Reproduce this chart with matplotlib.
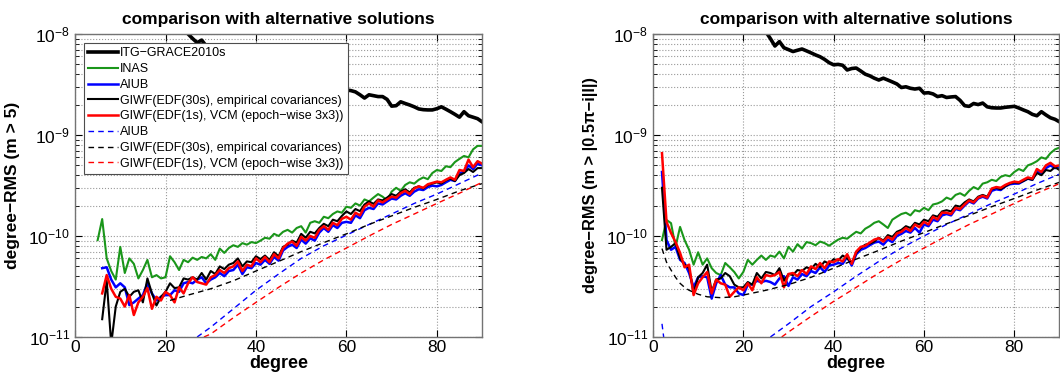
import numpy as np
import matplotlib
matplotlib.use("Agg")
import matplotlib.pyplot as plt
from matplotlib.ticker import FixedLocator, NullFormatter

plt.rcParams['font.family'] = ['Liberation Sans', 'DejaVu Sans']
plt.rcParams['mathtext.fontset'] = 'custom'
plt.rcParams['mathtext.rm'] = 'Liberation Sans'
plt.rcParams['mathtext.it'] = 'Liberation Sans:italic'

# ---------------------------------------------------
# data (values in units of 1e-11)
# ---------------------------------------------------

# ITG-GRACE2010s
itg_deg_left = list(range(25, 91))
itg_left = [1000, 900, 820, 870, 760, 700, 670, 690, 710, 680, 650, 620, 595, 560, 520,
            495, 500, 490, 440, 455, 460, 430, 400, 385, 365, 350, 365, 350, 335, 320,
            295, 300, 290, 285, 290, 279, 275, 267, 250, 232, 250, 245, 240, 240, 225,
            193, 195, 213, 205, 198, 190, 181, 178, 177, 177, 182, 190, 180, 170, 160,
            150, 170, 155, 150, 145, 135]

itg_deg_right = list(range(25, 91))
itg_right = [1050, 900, 760, 840, 730, 700, 670, 690, 710, 680, 650, 620, 595, 560, 520,
             495, 500, 490, 440, 455, 460, 430, 400, 385, 365, 350, 365, 350, 335, 320,
             295, 300, 290, 285, 290, 260, 262, 255, 240, 245, 235, 238, 240, 220, 195,
             192, 205, 200, 207, 190, 186, 185, 185, 188, 190, 192, 185, 177, 170, 160,
             155, 170, 158, 148, 143, 135]

# left panel (m > 5)
inas_deg_left = list(range(5, 91))
inas_left = [9.1, 14.7, 6.0, 4.5, 3.7, 7.8, 4.3, 6.0, 5.3, 3.8, 4.6, 5.8, 3.9, 4.1, 3.8,
             3.9, 6.3, 5.5, 4.6, 5.8, 5.5, 6.1, 5.8, 6.2, 6.0, 6.6, 5.8, 7.5, 6.8, 7.6,
             8.1, 7.8, 8.5, 8.2, 8.7, 8.5, 9.0, 9.6, 9.4, 10.5, 10.0, 11.0, 11.5, 10.8, 12.0,
             12.5, 10.8, 13.5, 14.0, 13.5, 15.5, 15.0, 16.5, 17.5, 17.0, 19.5, 19.0, 21.0, 20.0, 23.0,
             22.0, 24.0, 26.0, 24.5, 22.5, 27.5, 30.0, 28.0, 32.0, 34.0, 33.0, 36.0, 38.0, 36.5, 42.0,
             45.0, 44.0, 49.0, 48.0, 54.0, 58.0, 62.0, 60.0, 72.0, 78.0, 78.0]

sol_deg_left = list(range(6, 91))
aiub_left = [4.8, 4.9, 3.7, 3.1, 3.4, 3.1, 2.07, 2.2, 2.4, 2.6, 3.4, 2.7, 2.3, 2.5, 2.6,
             2.6, 2.9, 2.8, 3.4, 3.5, 3.4, 3.7, 3.9, 3.4, 3.7, 3.9, 4.3, 4.0, 4.5, 4.6,
             5.2, 4.2, 4.9, 4.8, 5.4, 5.2, 5.8, 5.3, 6.2, 5.7, 7.2, 7.8, 8.2, 7.6, 9.2,
             8.4, 9.5, 9.0, 10.8, 12.0, 11.0, 12.8, 12.0, 13.5, 13.8, 13.5, 16.0, 15.0, 18.0, 19.0,
             18.5, 21.0, 20.5, 22.0, 23.5, 23.0, 25.0, 26.5, 25.0, 27.5, 29.0, 28.5, 30.5, 31.5, 31.0,
             32.0, 34.0, 36.0, 35.0, 42.0, 43.0, 50.0, 46.0, 52.0, 50.0]
giwf30_left = [1.5, 3.6, 0.85, 2.0, 2.8, 3.0, 2.5, 2.8, 2.9, 2.2, 3.8, 2.7, 2.05, 2.5, 2.8,
               3.4, 3.05, 3.1, 3.8, 3.7, 3.9, 3.7, 4.3, 3.7, 4.5, 4.2, 5.0, 4.7, 5.2, 5.4,
               6.0, 5.0, 5.6, 5.5, 6.3, 5.9, 6.4, 5.8, 6.9, 6.3, 7.8, 8.2, 9.0, 8.6, 10.5,
               9.6, 11.0, 10.6, 12.0, 13.2, 12.5, 14.5, 14.0, 15.8, 17.5, 16.5, 18.5, 17.6, 20.5, 22.0,
               20.8, 23.0, 22.5, 24.0, 26.0, 25.0, 27.5, 29.0, 27.0, 30.0, 31.0, 29.5, 32.0, 33.0, 34.0,
               33.0, 35.5, 37.0, 35.0, 40.0, 42.0, 46.0, 43.0, 47.0, 47.0]
giwf1_left = [2.7, 4.1, 3.0, 2.5, 2.4, 2.0, 2.6, 1.65, 2.2, 2.5, 3.05, 1.9, 2.5, 2.3, 2.8,
              2.6, 2.2, 3.1, 2.7, 3.4, 3.9, 3.5, 3.4, 3.3, 3.9, 4.1, 4.6, 4.3, 4.8, 5.0,
              5.6, 4.5, 5.2, 5.0, 6.0, 5.5, 6.2, 5.5, 6.6, 6.0, 7.6, 8.4, 8.8, 8.0, 9.8,
              9.0, 10.0, 9.6, 11.5, 12.5, 11.5, 13.5, 12.8, 14.8, 15.5, 14.5, 17.0, 16.0, 19.5, 21.0,
              19.5, 22.5, 21.5, 23.0, 24.5, 24.0, 26.5, 28.0, 26.0, 29.5, 31.0, 30.0, 32.5, 33.5, 34.5,
              34.0, 36.0, 38.0, 36.0, 45.0, 44.0, 57.0, 48.0, 55.0, 52.0]

# formal errors (left)
aiub_f_deg_left = [27, 30, 35, 40, 45, 50, 55, 60, 65, 70, 75, 80, 85, 90]
aiub_f_left = [1.0, 1.25, 1.9, 2.9, 4.2, 6.0, 8.0, 10.2, 13.0, 16.5, 21.0, 26.0, 33.0, 42.0]
giwf30_f_deg_left = [21, 25, 30, 35, 40, 45, 50, 55, 60, 65, 70, 75, 80, 85, 90]
giwf30_f_left = [2.3, 2.6, 3.0, 3.6, 4.5, 5.6, 7.0, 8.6, 10.5, 13.0, 15.8, 19.2, 23.0, 28.0, 33.0]
giwf1_f_deg_left = [28.5, 30, 35, 40, 45, 50, 55, 60, 65, 70, 75, 80, 85, 90]
giwf1_f_left = [1.0, 1.07, 1.55, 2.2, 3.1, 4.3, 5.8, 7.6, 10.0, 13.0, 16.5, 21.0, 26.5, 34.0]

# right panel (m > |0.5pi - i| l)
sol_deg_right = list(range(2, 91))
inas_right = [9.1, 14.4, 13.4, 7.8, 12.3, 9.1, 7.3, 5.2, 6.9, 5.2, 6.0, 4.8, 4.3, 4.1, 5.4,
              4.9, 4.4, 3.8, 4.4, 5.8, 5.2, 5.8, 6.4, 5.8, 6.4, 6.2, 7.0, 6.0, 7.8, 7.0,
              8.3, 7.5, 8.7, 8.5, 8.1, 8.8, 8.5, 8.0, 8.6, 9.2, 9.6, 9.4, 10.2, 11.0, 10.6,
              11.8, 12.5, 13.5, 14.0, 13.0, 12.0, 14.5, 15.5, 16.5, 17.0, 16.0, 18.0, 17.5, 19.0, 18.0,
              20.5, 21.0, 22.0, 24.0, 23.0, 25.5, 26.5, 25.0, 28.0, 30.5, 29.0, 33.0, 34.0, 36.0, 35.0,
              38.5, 40.0, 39.0, 43.0, 46.0, 44.0, 50.0, 52.0, 55.0, 60.0, 58.0, 66.0, 72.0, 75.0]
aiub_right = [43, 9.1, 7.3, 7.8, 5.8, 5.4, 4.3, 3.1, 3.9, 4.0, 3.9, 2.4, 3.4, 4.1, 3.3,
              3.1, 3.1, 2.7, 2.6, 3.3, 3.3, 3.6, 3.5, 3.6, 3.5, 3.3, 3.8, 4.0, 3.2, 3.9,
              3.7, 4.2, 4.0, 4.5, 4.3, 4.9, 4.4, 5.1, 5.2, 5.4, 5.3, 6.2, 5.1, 6.6, 7.3,
              7.6, 8.1, 8.6, 8.8, 8.2, 9.2, 8.7, 10.0, 10.5, 11.2, 10.8, 12.0, 10.8, 13.0, 12.5,
              14.5, 14.0, 16.0, 16.5, 16.0, 18.5, 18.0, 20.0, 22.0, 21.0, 23.5, 24.5, 23.5, 28.0, 29.0,
              28.5, 31.0, 32.5, 33.0, 33.0, 35.0, 37.0, 36.0, 44.0, 42.0, 47.0, 50.0, 47.0, 48.0]
giwf30_right = [30, 7.3, 7.8, 8.5, 6.0, 5.2, 4.8, 2.7, 3.9, 4.3, 5.2, 2.8, 3.7, 3.8, 4.3,
                4.0, 3.3, 3.1, 3.1, 3.5, 3.3, 4.3, 3.8, 4.4, 4.3, 4.1, 4.8, 3.6, 4.2, 4.1,
                4.6, 4.5, 4.9, 4.7, 5.3, 4.9, 5.6, 5.3, 5.9, 5.7, 6.4, 6.0, 5.4, 6.8, 7.6,
                8.2, 8.4, 8.8, 9.6, 9.0, 10.2, 9.8, 11.0, 11.5, 12.5, 12.0, 13.5, 13.0, 14.5, 14.0,
                16.0, 15.5, 17.5, 18.0, 17.5, 20.0, 19.5, 21.5, 23.0, 22.0, 24.5, 25.5, 24.5, 29.0, 30.0,
                29.0, 31.0, 33.0, 34.0, 33.5, 35.0, 37.0, 36.0, 42.0, 40.0, 45.0, 44.0, 48.0, 45.0]
giwf1_right = [66, 13.8, 10.7, 8.7, 6.8, 4.9, 5.2, 2.6, 3.4, 3.9, 4.4, 2.7, 3.7, 3.4, 3.3,
               2.5, 2.8, 3.1, 2.9, 3.4, 2.9, 3.9, 3.4, 4.1, 4.0, 4.1, 4.4, 3.1, 4.2, 4.3,
               4.0, 4.6, 4.2, 5.0, 4.7, 5.4, 4.8, 5.6, 5.5, 5.9, 5.6, 6.6, 5.3, 7.0, 7.8,
               8.0, 8.6, 9.2, 9.5, 8.8, 9.8, 9.2, 10.6, 11.0, 12.0, 11.2, 13.0, 12.2, 13.8, 13.0,
               15.5, 14.5, 17.0, 17.0, 16.5, 19.0, 18.5, 20.5, 22.5, 21.5, 24.0, 25.0, 24.0, 29.5, 30.5,
               30.0, 32.0, 33.5, 34.5, 34.0, 36.0, 38.0, 37.0, 46.0, 43.0, 50.0, 53.0, 49.0, 50.0]

# formal errors (right)
aiub_f_deg_right = [2, 3, 4, 26, 30, 35, 40, 45, 50, 55, 60, 65, 70, 75, 80, 85, 90]
aiub_f_right = [1.35, 0.6, np.nan, 1.0, 1.35, 2.0, 2.8, 4.0, 5.6, 7.6, 10.0, 13.0, 16.5, 21.0, 26.0, 33.0, 41.0]
giwf30_f_deg_right = [2, 3, 4, 5, 6, 7, 8, 10, 12, 15, 18, 20, 25, 30, 35, 40, 45, 50, 55, 60,
                      65, 70, 75, 80, 85, 90]
giwf30_f_right = [7.5, 5.5, 4.6, 3.9, 3.4, 3.1, 2.9, 2.65, 2.5, 2.45, 2.5, 2.6, 2.9, 3.3, 3.9,
                  4.8, 5.9, 7.2, 8.9, 10.8, 13.2, 16.0, 19.5, 23.5, 28.5, 34.0]
giwf1_f_deg_right = [28.5, 30, 35, 40, 45, 50, 55, 60, 65, 70, 75, 80, 85, 90]
giwf1_f_right = [1.0, 1.12, 1.6, 2.25, 3.1, 4.3, 5.8, 7.6, 10.0, 13.0, 16.5, 21.0, 26.5, 33.0]

labels = ["ITG\u2212GRACE2010s", "INAS", "AIUB",
          "GIWF(EDF(30s), empirical covariances)",
          "GIWF(EDF(1s), VCM (epoch\u2212wise 3x3))",
          "AIUB",
          "GIWF(EDF(30s), empirical covariances)",
          "GIWF(EDF(1s), VCM (epoch\u2212wise 3x3))"]

green = '#1a961a'
unit = 1e-11


def scaled(v):
    return np.array(v, dtype=float) * unit


# minor ticks only inside the visible decades
minor_y = [m * 10.0 ** e for e in (-11, -10, -9) for m in range(2, 10)]

# ---------------------------------------------------
# plot
# ---------------------------------------------------

fig = plt.figure(figsize=(10.6, 3.8), dpi=100)
ax1 = fig.add_axes([0.0708, 0.1132, 0.384, 0.7974])
ax2 = fig.add_axes([0.616, 0.1132, 0.3835, 0.7974])

panels = [
    (ax1, itg_deg_left, itg_left, inas_deg_left, inas_left, sol_deg_left,
     aiub_left, giwf30_left, giwf1_left,
     aiub_f_deg_left, aiub_f_left, giwf30_f_deg_left, giwf30_f_left,
     giwf1_f_deg_left, giwf1_f_left, "degree\u2212RMS (m > 5)", 12.5),
    (ax2, itg_deg_right, itg_right, sol_deg_right, inas_right, sol_deg_right,
     aiub_right, giwf30_right, giwf1_right,
     aiub_f_deg_right, aiub_f_right, giwf30_f_deg_right, giwf30_f_right,
     giwf1_f_deg_right, giwf1_f_right, "degree\u2212RMS (m > |0.5\u03c0\u2212i|l|)", 11.8),
]

for (ax, d_itg, v_itg, d_inas, v_inas, d_sol, v_aiub, v_g30, v_g1,
     d_af, v_af, d_g30f, v_g30f, d_g1f, v_g1f, ylab, ysize) in panels:
    ax.semilogy(d_itg, scaled(v_itg), color='black', lw=2.6, label=labels[0])
    ax.semilogy(d_inas, scaled(v_inas), color=green, lw=1.5, label=labels[1])
    ax.semilogy(d_sol, scaled(v_aiub), color='#0000ff', lw=1.8, label=labels[2])
    ax.semilogy(d_sol, scaled(v_g30), color='black', lw=1.5, label=labels[3])
    ax.semilogy(d_sol, scaled(v_g1), color='#ff0000', lw=1.8, label=labels[4])
    ax.semilogy(d_af, scaled(v_af), color='#0000ff', lw=1.0, dashes=(4, 3), label=labels[5])
    ax.semilogy(d_g30f, scaled(v_g30f), color='black', lw=1.0, dashes=(4, 3), label=labels[6])
    ax.semilogy(d_g1f, scaled(v_g1f), color='#ff0000', lw=1.0, dashes=(4, 3), label=labels[7])

    ax.set_xlim(0, 90)
    ax.set_ylim(1e-11, 1e-8)
    ax.set_xticks([0, 20, 40, 60, 80])
    ax.set_yticks([1e-11, 1e-10, 1e-9, 1e-8])
    ax.yaxis.set_minor_locator(FixedLocator(minor_y))
    ax.yaxis.set_minor_formatter(NullFormatter())
    ax.grid(True, which='major', ls=':', color='0.6', lw=0.8)
    ax.grid(True, which='minor', axis='y', ls=':', color='0.6', lw=0.8)
    ax.tick_params(which='both', direction='in', top=True, right=True, labelsize=12.5)
    ax.tick_params(axis='x', which='major', pad=2)
    ax.tick_params(which='major', length=5)
    ax.tick_params(which='minor', length=3)
    for s in ax.spines.values():
        s.set_color('0.45')
        s.set_linewidth(1.0)
    ax.set_title("comparison with alternative solutions", fontsize=12.5,
                 fontweight='bold', pad=7)
    ax.set_xlabel("degree", fontsize=13, fontweight='bold', labelpad=0)
    ax.set_ylabel(ylab, fontsize=ysize, fontweight='bold', labelpad=6)

leg = ax1.legend(loc='upper left', bbox_to_anchor=(0.022, 0.97), borderaxespad=0,
                 fontsize=9.0, fancybox=False, framealpha=1, edgecolor='0.3',
                 labelspacing=0.3, handlelength=2.4, handletextpad=0.12,
                 borderpad=0.35)
leg.get_frame().set_linewidth(0.8)

fig.savefig("out.png", dpi=100)
